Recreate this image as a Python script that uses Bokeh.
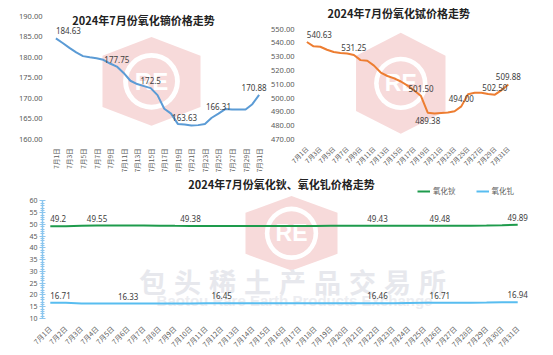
import math
from bokeh.plotting import figure
from bokeh.models import (Range1d, FixedTicker, SingleIntervalTicker, PrintfTickFormatter,
                          Label, Legend, LegendItem, ColumnDataSource)
from bokeh.layouts import column, row
from bokeh.core.properties import value
from bokeh.embed import file_html
from bokeh.resources import INLINE

# ---------------- data ----------------
day_num = list(range(1, 32))
day_labels = ["7月%d日" % d for d in day_num]

dy_price = [184.63, 183.5, 182.3, 181.2, 180.3, 180.0, 179.8, 179.4, 178.5, 177.75,
            176.2, 174.3, 173.5, 173.0, 172.5, 170.8, 167.5, 166.3, 163.8, 163.63,
            163.4, 163.5, 163.8, 165.3, 166.31, 167.4, 167.3, 167.3, 167.3, 168.6, 170.88]
dy_label_days = [1, 10, 15, 20, 25, 31]
dy_ticks = [160, 165, 170, 175, 180, 185, 190]
dy_tick_days = [1, 3, 5, 7, 9, 11, 13, 15, 17, 19, 21, 23, 25, 27, 29, 31]

tb_price = [540.63, 537.5, 537.2, 535.0, 533.4, 532.7, 532.3, 531.25, 527.5, 527.0,
            523.5, 518.5, 516.0, 514.3, 512.0, 509.0, 505.5, 501.50, 489.38, 488.8,
            489.2, 489.6, 490.5, 494.00, 502.8, 503.9, 503.9, 503.0, 502.50, 505.8, 509.88]
tb_label_days = [1, 8, 18, 24, 29, 31]
tb_label_days_below = [19]
tb_ticks = [470, 480, 490, 500, 510, 520, 530, 540, 550]
tb_tick_days = [1, 3, 5, 7, 9, 11, 13, 15, 17, 19, 21, 23, 25, 27, 29, 31]

ho_price = [49.2, 49.2, 49.45, 49.55, 49.55, 49.55, 49.55, 49.5, 49.42, 49.38,
            49.38, 49.38, 49.38, 49.38, 49.4, 49.4, 49.4, 49.4, 49.42, 49.43,
            49.43, 49.43, 49.43, 49.45, 49.48, 49.48, 49.48, 49.5, 49.55, 49.7, 49.89]
gd_price = [16.71, 16.65, 16.4, 16.35, 16.33, 16.33, 16.35, 16.38, 16.4, 16.42,
            16.44, 16.45, 16.45, 16.45, 16.45, 16.45, 16.45, 16.45, 16.45, 16.46,
            16.46, 16.46, 16.5, 16.6, 16.68, 16.71, 16.72, 16.75, 16.8, 16.87, 16.94]
ho_label_days = [1, 4, 10, 22, 26, 31]
gd_label_days = [1, 6, 12, 22, 26, 31]
ho_name = "氧化钬"
gd_name = "氧化钆"

title1 = "2024年7月份氧化镝价格走势"
title2 = "2024年7月份氧化铽价格走势"
title3 = "2024年7月份氧化钬、氧化钆价格走势"
wm_cn = "包头稀土产品交易所"
wm_en = "Baotou Rare Earth Products Exchange"

# ---------------- styles ----------------
CJK = "Noto Sans CJK SC"
NUM = "Noto Sans"
AX_COL = "#595959"
LAB_COL = "#404040"
PINK = "#F7DADA"


def base_fig(w, h, left, bottom, ylo, yhi, ytop_px, xright_px):
    """Frame spans from `left` to the right edge and from the top edge to h-bottom.
    Days 0.5..31.5 occupy [left, xright_px]; ylo..yhi occupy [h-bottom, ytop_px]."""
    x_end = 0.5 + 31.0 * (w - left) / (xright_px - left)
    fb = h - bottom
    y_end = ylo + (yhi - ylo) * fb / (fb - ytop_px)
    p = figure(width=w, height=h, title=None,
               x_range=Range1d(0.5, x_end), y_range=Range1d(ylo, y_end),
               output_backend="svg", toolbar_location=None,
               min_border_left=left, min_border_right=0,
               min_border_top=0, min_border_bottom=bottom)
    p.grid.visible = False
    p.outline_line_color = None
    p.background_fill_color = "white"
    p.border_fill_color = "white"
    # pixel-coordinate ranges for decorations (titles / watermark)
    p.extra_x_ranges = {"px": Range1d(left, w)}
    p.extra_y_ranges = {"py": Range1d(fb, 0)}
    for ax in (p.xaxis[0], p.yaxis[0]):
        ax.axis_line_color = None
        ax.major_tick_line_color = None
        ax.minor_tick_line_color = None
        ax.major_label_text_color = AX_COL
    p.xaxis.major_label_text_font = CJK
    p.yaxis.major_label_text_font = NUM
    p.yaxis.bounds = (ylo, yhi)
    return p


def add_logo(p, cx, cy, a, b, hh):
    xs = [cx, cx + a, cx + a, cx, cx - a, cx - a]
    ys = [cy - b, cy - hh, cy + hh, cy + b, cy + hh, cy - hh]
    p.patch(xs, ys, x_range_name="px", y_range_name="py", fill_color=PINK, line_color=None)
    r_out = 0.58 * a
    r_in = 0.48 * a
    p.scatter([cx], [cy], x_range_name="px", y_range_name="py", size=2 * r_out,
              fill_color="white", line_color=None)
    p.scatter([cx], [cy], x_range_name="px", y_range_name="py", size=2 * r_in,
              fill_color=PINK, line_color=None)
    p.text([cx], [cy], text=["RE"], x_range_name="px", y_range_name="py",
           text_font=value("Liberation Sans"), text_font_style="bold",
           text_font_size="%dpx" % int(0.5 * a), text_color="white",
           text_align="center", text_baseline="middle")


def add_title(p, x, y, txt):
    p.add_layout(Label(x=x, y=y, x_range_name="px", y_range_name="py", text=txt,
                       text_font=CJK, text_font_style="bold", text_font_size="11px",
                       text_color="#222222", text_align="center", text_baseline="middle"))


def add_labels(p, vals, lab_days, fmt, below=False, last_shift=0):
    ys = [vals[d - 1] for d in lab_days]
    src = ColumnDataSource(dict(x=lab_days, y=ys, t=[fmt(v) for v in ys],
                                a=["left" if d == 1 else "center" for d in lab_days],
                                o=[last_shift if d == day_num[-1] else 0 for d in lab_days]))
    p.text(x="x", y="y", text="t", source=src, text_align="a", x_offset="o",
           text_baseline="top" if below else "bottom", y_offset=4 if below else -4,
           text_font=value(NUM), text_font_size="8px", text_color=LAB_COL)


# ---------------- chart 1: 氧化镝 ----------------
p1 = base_fig(268, 175, 52, 34, 160, 190, 16, 262)
add_logo(p1, 151, 82, 49, 45, 26)
p1.yaxis.ticker = FixedTicker(ticks=dy_ticks)
p1.yaxis.formatter = PrintfTickFormatter(format="%.2f")
p1.yaxis.major_label_text_font_size = "7.5px"
p1.yaxis.major_label_standoff = 4
p1.xaxis.ticker = FixedTicker(ticks=dy_tick_days)
p1.xaxis.major_label_overrides = {d: day_labels[d - 1] for d in dy_tick_days}
p1.xaxis.major_label_orientation = math.pi / 2
p1.xaxis.major_label_text_font_size = "6.5px"
p1.xaxis.major_label_standoff = 3
p1.line(day_num, dy_price, line_color="#5B9BD5", line_width=2)
add_labels(p1, dy_price, dy_label_days, lambda v: "%g" % v, last_shift=-5)
add_title(p1, 143, 20, title1)

# ---------------- chart 2: 氧化铽 ----------------
p2 = base_fig(285, 175, 28, 29, 470, 550, 30, 242)
add_logo(p2, 128, 87, 46, 53, 29)
p2.yaxis.ticker = FixedTicker(ticks=tb_ticks)
p2.yaxis.formatter = PrintfTickFormatter(format="%.2f")
p2.yaxis.major_label_text_font_size = "7.5px"
p2.yaxis.major_label_standoff = 3
p2.xaxis.ticker = FixedTicker(ticks=tb_tick_days)
p2.xaxis.major_label_overrides = {d: day_labels[d - 1] for d in tb_tick_days}
p2.xaxis.major_label_orientation = math.pi / 4
p2.xaxis.major_label_text_font_size = "6.5px"
p2.xaxis.major_label_standoff = 2
p2.line(day_num, tb_price, line_color="#ED7D31", line_width=2)
add_labels(p2, tb_price, tb_label_days, lambda v: "%.2f" % v)
add_labels(p2, tb_price, tb_label_days_below, lambda v: "%.2f" % v, below=True)
add_title(p2, 126, 13, title2)

# ---------------- chart 3: 氧化钬 / 氧化钆 ----------------
p3 = base_fig(553, 180, 42, 34, 10, 60, 26, 525)
add_logo(p3, 291, 59, 46, 38, 21)
p3.text([152 + 35 * i for i in range(len(wm_cn))], [108] * len(wm_cn), text=list(wm_cn),
        x_range_name="px", y_range_name="py", text_font=value(CJK), text_font_style="bold",
        text_font_size="27px", text_color="#E7E8ED", text_align="center", text_baseline="middle")
p3.text([294], [128], text=[wm_en], x_range_name="px", y_range_name="py",
        text_font=value("Liberation Sans"), text_font_style="bold", text_font_size="15px",
        text_color="#ECEDF1", text_align="center", text_baseline="middle")
ya = p3.yaxis[0]
ya.ticker = SingleIntervalTicker(interval=5, num_minor_ticks=5)
ya.axis_line_color = "#8CC6EE"
ya.axis_line_width = 1.5
ya.major_tick_line_color = "#8CC6EE"
ya.minor_tick_line_color = "#8CC6EE"
ya.major_tick_in = 3
ya.major_tick_out = 3
ya.minor_tick_in = 2
ya.minor_tick_out = 2
ya.major_label_text_font_size = "7px"
ya.major_label_standoff = 2
p3.xaxis.ticker = FixedTicker(ticks=day_num)
p3.xaxis.major_label_overrides = {d: day_labels[d - 1] for d in day_num}
p3.xaxis.major_label_orientation = math.pi / 4
p3.xaxis.major_label_text_font_size = "7px"
p3.xaxis.major_label_standoff = 3
r_ho = p3.line(day_num, ho_price, line_color="#1E9B4C", line_width=2)
r_gd = p3.line(day_num, gd_price, line_color="#58BDF0", line_width=2)
add_labels(p3, ho_price, ho_label_days, lambda v: "%g" % v)
add_labels(p3, gd_price, gd_label_days, lambda v: "%g" % v)
add_title(p3, 281, 9, title3)

legend = Legend(items=[LegendItem(label=ho_name, renderers=[r_ho]),
                       LegendItem(label=gd_name, renderers=[r_gd])],
                orientation="horizontal", location=(375, 122),
                background_fill_alpha=0, border_line_color=None, padding=0, margin=0,
                spacing=20, glyph_width=13, glyph_height=8, label_height=8,
                label_standoff=3, label_text_font=CJK, label_text_font_size="7.5px",
                label_text_color=AX_COL)
p3.add_layout(legend)

layout = column(row(p1, p2), p3)
open("out.html", "w").write(file_html(layout, INLINE))
